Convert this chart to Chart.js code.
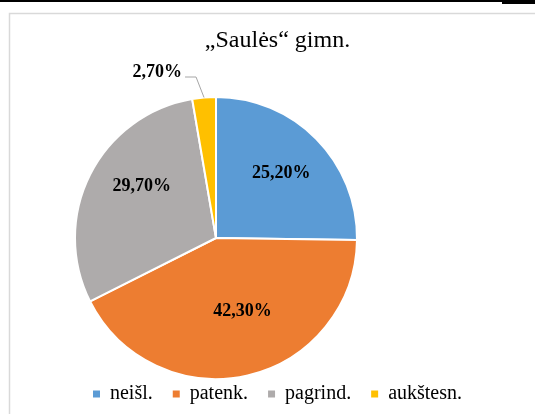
<!DOCTYPE html>
<html><head><meta charset="utf-8">
<script src="https://cdn.jsdelivr.net/npm/chart.js@4"></script>
<style>html,body{margin:0;padding:0;background:#fff;overflow:hidden}#wrap{position:relative;width:535px;height:414px}
.fl{font-family:"Liberation Serif";position:absolute;left:-999px;top:0}</style>
</head><body><span class="fl">a<b>b</b></span><div id="wrap"><canvas id="c"></canvas></div>
<script>
const categories = ['neišl.', 'patenk.', 'pagrind.', 'aukštesn.'];
const values = [25.2, 42.3, 29.7, 2.7];
const valueLabels = ['25,20%', '42,30%', '29,70%', '2,70%'];
const colors = ['#5B9BD5', '#ED7D31', '#AEABAB', '#FFC000'];
const chartTitle = '„Saulės“ gimn.';

// label placement style (fraction of radius, angle nudge in degrees)
const labelRadius = [0.65, 0.55, 0.64];
const labelNudge = [0, -7, 8];

const SERIF = "'Liberation Serif', 'Times New Roman', Tinos, 'DejaVu Serif', serif";

const framePlugin = {
  id: 'frame',
  beforeDraw(chart) {
    const ctx = chart.ctx;
    ctx.save();
    ctx.fillStyle = '#fff';
    ctx.fillRect(0, 0, chart.width, chart.height);
    ctx.fillStyle = '#000';
    ctx.fillRect(0, 0, chart.width, 2);
    ctx.fillRect(502, 0, chart.width - 502, 4);
    ctx.strokeStyle = '#D9D9D9';
    ctx.lineWidth = 1.5;
    ctx.beginPath();
    ctx.moveTo(9.5, chart.height + 5);
    ctx.lineTo(9.5, 13.5);
    ctx.lineTo(chart.width + 5, 13.5);
    ctx.stroke();
    ctx.restore();
  }
};

const areaPlugin = {
  id: 'pieArea',
  afterLayout(chart) {
    const l = 74, t = 96, r = 358, b = 380;
    chart.chartArea = {left: l, top: t, right: r, bottom: b, width: r - l, height: b - t};
    chart.legend.top += 0;
    chart.legend.bottom += 0;
  }
};

const labelPlugin = {
  id: 'sliceLabels',
  afterDatasetsDraw(chart) {
    const ctx = chart.ctx;
    const meta = chart.getDatasetMeta(0);
    ctx.save();
    ctx.font = 'bold 18px ' + SERIF;
    ctx.fillStyle = '#000';
    meta.data.forEach((arc, i) => {
      const p = arc.getProps(['x', 'y', 'startAngle', 'endAngle', 'outerRadius'], true);
      const mid = (p.startAngle + p.endAngle) / 2;
      if (i < 3) {
        const a = mid + labelNudge[i] * Math.PI / 180;
        const rr = p.outerRadius * labelRadius[i];
        ctx.textAlign = 'center';
        ctx.textBaseline = 'middle';
        ctx.fillText(valueLabels[i], p.x + Math.cos(a) * rr, p.y + Math.sin(a) * rr);
      } else {
        const ox = p.x + Math.cos(mid) * p.outerRadius;
        const oy = p.y + Math.sin(mid) * p.outerRadius;
        const ex = ox - 8, ey = oy - 20.5;
        const hx = ex - 11;
        ctx.strokeStyle = '#A6A6A6';
        ctx.lineWidth = 1;
        ctx.beginPath();
        ctx.moveTo(ox, oy);
        ctx.lineTo(ex, ey);
        ctx.lineTo(hx, ey);
        ctx.stroke();
        ctx.textAlign = 'right';
        ctx.textBaseline = 'middle';
        ctx.fillText(valueLabels[i], hx - 3, ey - 5);
      }
    });
    ctx.restore();
  }
};

function build() {
  const baseGen = (Chart.overrides.pie && Chart.overrides.pie.plugins && Chart.overrides.pie.plugins.legend &&
    Chart.overrides.pie.plugins.legend.labels.generateLabels) ||
    Chart.overrides.doughnut.plugins.legend.labels.generateLabels;

  const chart = new Chart(document.getElementById('c'), {
    type: 'pie',
    data: {
      labels: categories,
      datasets: [{
        data: values,
        backgroundColor: colors,
        borderColor: '#fff',
        borderWidth: 2
      }]
    },
    options: {
      responsive: true,
      maintainAspectRatio: false,
      animation: false,
      layout: {padding: {left: 20, right: 0, top: 0, bottom: 0}},
      plugins: {
        title: {
          display: true,
          text: chartTitle,
          color: '#000',
          font: {family: SERIF, size: 24, weight: 'normal'},
          padding: {top: 26, bottom: 4}
        },
        legend: {
          display: true,
          position: 'bottom',
          labels: {
            color: '#000',
            font: {family: SERIF, size: 20},
            boxWidth: 7,
            boxHeight: 7,
            padding: 20,
            generateLabels(chart) {
              return baseGen(chart).map(it => Object.assign(it, {lineWidth: 0, strokeStyle: 'rgba(0,0,0,0)'}));
            }
          }
        },
        tooltip: {enabled: false}
      }
    },
    plugins: [framePlugin, areaPlugin, labelPlugin]
  });
  setTimeout(() => chart.update(), 300);
}

Promise.all([
  document.fonts.load("24px 'Liberation Serif'"),
  document.fonts.load("bold 18px 'Liberation Serif'")
]).catch(() => {}).then(build, build);
</script>
</body></html>
